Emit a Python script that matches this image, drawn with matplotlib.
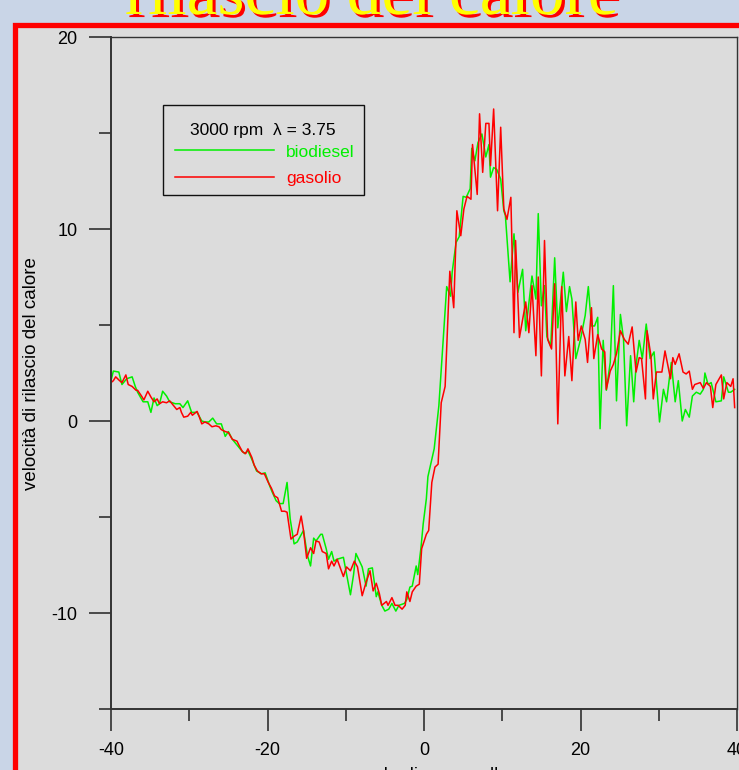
import matplotlib
matplotlib.use("Agg")
import matplotlib.pyplot as plt
import matplotlib.patheffects as pe
from matplotlib.patches import Rectangle
from matplotlib.ticker import MultipleLocator

# --
# Data: heat release rate vs crank angle
# --
angle_bio = [
    -40.0, -39.7, -39.0, -38.6, -38.0, -37.3, -36.9, -36.6, -35.9, -35.3,
    -34.9, -34.5, -34.1, -33.8, -33.4, -32.9, -32.5, -31.8, -31.2, -30.8,
    -30.2, -29.7, -29.0, -28.4, -28.0, -27.5, -27.0, -26.5, -25.9, -25.4,
    -25.0, -24.5, -23.8, -23.3, -22.9, -22.5, -22.0, -21.4, -20.8, -20.3,
    -19.7, -19.4, -18.9, -18.5, -18.0, -17.5, -17.1, -16.6, -16.2, -15.4,
    -14.9, -14.5, -14.1, -13.8, -13.2, -13.0, -12.5, -12.2, -11.8, -11.5,
    -11.1, -10.3, -9.4, -9.0, -8.7, -7.9, -7.4, -7.1, -6.6, -6.1,
    -5.9, -5.4, -5.0, -4.5, -4.1, -3.6, -3.2, -2.5, -2.2, -1.8,
    -1.5, -1.0, -0.8, -0.4, -0.1, 0.3, 0.5, 1.0, 1.3, 1.9,
    2.4, 2.9, 3.4, 3.6, 4.1, 4.5, 5.0, 5.4, 5.9, 6.1,
    6.5, 6.9, 7.4, 7.9, 8.3, 8.5, 8.9, 9.3, 9.8, 10.2,
    10.4, 11.0, 11.5, 12.0, 12.6, 13.0, 13.8, 14.3, 14.6, 15.0,
    15.4, 15.7, 16.2, 16.7, 17.1, 17.8, 18.2, 18.6, 18.9, 19.4,
    20.0, 20.6, 21.0, 21.4, 21.8, 22.2, 22.5, 22.9, 23.3, 23.8,
    24.2, 24.6, 25.1, 25.5, 25.9, 26.4, 26.8, 27.1, 27.5, 27.9,
    28.4, 28.9, 29.4, 30.1, 30.6, 31.0, 31.6, 32.1, 32.5, 33.0,
    33.4, 33.9, 34.3, 34.8, 35.3, 35.7, 35.9, 36.3, 36.7, 37.3,
    38.0, 38.3, 38.9, 39.2, 39.7,
]
hrr_bio = [
    2.1, 2.6, 2.55, 1.9, 2.2, 2.3, 1.8, 1.5, 1.0, 1.0,
    0.45, 1.2, 0.8, 0.9, 1.55, 1.3, 1.0, 0.9, 0.9, 0.7,
    1.05, 0.45, 0.45, 0.0, -0.05, -0.05, 0.15, -0.15, -0.15, -0.8,
    -0.55, -0.95, -1.3, -1.55, -1.7, -1.55, -2.0, -2.6, -2.75, -2.7,
    -3.4, -3.7, -4.15, -4.3, -4.3, -3.2, -5.1, -6.4, -6.3, -5.7,
    -7.0, -7.55, -6.1, -6.25, -5.9, -5.9, -6.65, -7.2, -6.8, -7.3,
    -7.2, -7.1, -9.05, -8.0, -6.9, -7.6, -8.6, -7.7, -7.65, -9.15,
    -8.9, -9.6, -9.9, -9.8, -9.5, -9.9, -9.6, -9.5, -9.3, -8.65,
    -8.6, -7.55, -8.0, -6.65, -5.35, -4.05, -2.9, -2.0, -1.45, 0.8,
    3.9, 7.0, 6.5, 7.75, 9.3, 9.6, 11.7, 11.65, 12.1, 14.2,
    13.55, 14.5, 14.95, 13.75, 14.4, 12.7, 13.2, 13.1, 12.6, 10.95,
    10.7, 7.25, 9.75, 6.7, 7.9, 4.7, 7.55, 6.35, 10.8, 6.0,
    7.05, 4.4, 3.9, 8.5, 4.85, 7.75, 5.7, 7.0, 6.35, 3.25,
    4.25, 5.5, 7.0, 4.95, 4.95, 5.4, -0.4, 4.2, 1.6, 3.05,
    7.05, 1.05, 5.55, 4.25, -0.25, 3.4, 1.0, 2.9, 4.2, 3.25,
    5.05, 3.25, 3.6, -0.05, 1.65, 1.0, 3.05, 1.0, 2.1, 0.0,
    0.6, 0.2, 1.3, 1.5, 1.4, 1.65, 2.5, 1.9, 2.0, 1.0,
    1.05, 2.3, 1.5, 1.5, 1.65,
]

angle_gas = [
    -40.0, -39.7, -39.4, -38.9, -38.6, -38.1, -37.8, -37.3, -36.8, -36.6,
    -36.1, -35.8, -35.3, -34.9, -34.5, -34.1, -33.8, -33.4, -32.9, -32.5,
    -32.1, -31.6, -31.2, -31.0, -30.7, -30.2, -29.8, -29.6, -29.0, -28.7,
    -28.4, -28.0, -27.5, -27.1, -26.6, -26.2, -25.9, -25.4, -25.0, -24.5,
    -23.9, -23.6, -23.2, -22.8, -22.5, -22.0, -21.7, -21.3, -20.8, -20.4,
    -19.9, -19.5, -19.1, -18.7, -18.2, -17.8, -17.5, -17.0, -16.6, -16.2,
    -15.7, -15.4, -15.0, -14.5, -14.1, -13.8, -13.4, -13.0, -12.5, -12.2,
    -11.8, -11.5, -11.1, -10.3, -9.9, -9.4, -8.9, -8.5, -7.9, -7.4,
    -6.9, -6.5, -6.1, -5.7, -5.4, -4.8, -4.6, -4.1, -3.7, -3.3,
    -2.8, -2.4, -2.2, -1.8, -1.5, -1.0, -0.6, -0.3, 0.3, 0.6,
    1.0, 1.4, 1.8, 2.2, 2.7, 3.3, 3.8, 4.2, 4.7, 5.1,
    5.5, 6.0, 6.2, 6.8, 7.1, 7.5, 7.9, 8.3, 8.5, 8.9,
    9.4, 9.8, 10.2, 10.6, 11.1, 11.5, 11.7, 12.2, 13.0, 13.4,
    13.8, 14.3, 14.6, 15.0, 15.4, 15.8, 16.3, 16.7, 17.1, 17.6,
    18.0, 18.5, 18.9, 19.4, 19.7, 20.1, 20.6, 20.9, 21.4, 21.7,
    22.2, 22.7, 23.1, 23.3, 23.8, 24.2, 24.6, 25.1, 25.6, 26.1,
    26.6, 27.1, 27.5, 27.8, 28.3, 28.5, 29.0, 29.3, 29.7, 30.4,
    30.8, 31.5, 31.8, 32.1, 32.6, 33.1, 33.5, 33.9, 34.3, 34.6,
    35.3, 35.7, 36.1, 36.6, 36.9, 37.3, 38.0, 38.3, 38.7, 39.2,
    39.5, 39.7,
]
hrr_gas = [
    2.0, 2.1, 2.3, 2.1, 2.0, 2.4, 1.9, 1.8, 1.6, 1.6,
    1.3, 1.1, 1.55, 1.25, 1.0, 1.15, 0.9, 1.0, 0.95, 1.05,
    0.85, 0.6, 0.7, 0.45, 0.2, 0.25, 0.45, 0.3, 0.5, 0.2,
    -0.15, -0.05, -0.15, -0.3, -0.25, -0.3, -0.45, -0.55, -0.6, -0.95,
    -1.05, -1.3, -1.6, -1.7, -1.45, -1.9, -2.3, -2.6, -2.75, -2.75,
    -3.2, -3.5, -3.9, -4.0, -4.7, -4.7, -4.75, -6.15, -6.0, -5.9,
    -4.95, -5.7, -7.15, -6.6, -6.9, -6.25, -6.3, -6.8, -6.9, -7.7,
    -7.3, -7.55, -7.2, -8.1, -7.6, -7.8, -7.3, -7.6, -9.1, -8.4,
    -7.8, -8.85, -8.45, -9.0, -9.6, -9.4, -9.6, -9.2, -9.6, -9.6,
    -9.8, -9.6, -8.9, -9.4, -8.9, -8.6, -8.5, -6.65, -5.9, -5.7,
    -3.2, -2.4, -2.25, 0.95, 1.8, 7.8, 5.9, 10.95, 9.65, 11.05,
    11.7, 11.55, 14.4, 11.8, 16.0, 12.95, 15.5, 15.5, 13.3, 16.25,
    10.95, 15.3, 11.05, 10.5, 11.65, 4.6, 9.4, 4.35, 6.2, 4.6,
    7.05, 3.4, 7.5, 2.35, 9.4, 4.25, 3.75, 7.15, -0.15, 7.0,
    2.35, 4.4, 2.1, 6.2, 4.2, 4.95, 4.25, 3.05, 5.9, 3.25,
    4.5, 3.75, 3.6, 1.65, 2.6, 2.95, 3.5, 4.7, 4.25, 4.0,
    4.9, 2.55, 3.3, 3.25, 1.15, 4.7, 3.4, 1.15, 2.55, 2.55,
    3.65, 2.2, 3.3, 2.95, 3.5, 2.55, 2.45, 2.6, 1.65, 1.9,
    2.0, 1.7, 2.0, 1.8, 0.7, 1.9, 2.4, 1.15, 2.0, 1.8,
    2.2, 0.7,
]

series_labels = ["biodiesel", "gasolio"]
series_colors = ["#00f000", "#ff0000"]
legend_title = "3000 rpm  \u03bb = 3.75"

# --
# Figure / slide background
# --
plt.rcParams["font.family"] = ["Liberation Sans", "DejaVu Sans"]
plt.rcParams["axes.unicode_minus"] = False

W, H = 739, 770
fig = plt.figure(figsize=(W / 100, H / 100), dpi=100)
fig.patch.set_facecolor("#c9d5e7")

# red slide frame with grey interior (drawn behind the axes)
frame = Rectangle((14.5 / W, -0.2), 1.2, 1.2 - 24.5 / H,
                  transform=fig.transFigure, facecolor="#dcdcdc",
                  edgecolor="#ff0000", linewidth=3.8, zorder=-5)
fig.patches.append(frame)

# slide title (cut off at the top)
fig.text(372 / W, 1 - 14 / H, "rilascio del calore", ha="center", va="baseline",
         family="Liberation Serif", fontsize=50, color="#ffff00", zorder=5,
         path_effects=[pe.withSimplePatchShadow(offset=(2.2, -2.2),
                                                shadow_rgbFace="#ff0000",
                                                alpha=1.0)])

# --
# Axes
# --
ax = fig.add_axes([111 / W, 1 - 709 / H, 626 / W, 672 / H], zorder=2)
ax.set_facecolor("#dcdcdc")

ax.plot(angle_bio, hrr_bio, color=series_colors[0], linewidth=1.1, label=series_labels[0])
ax.plot(angle_gas, hrr_gas, color=series_colors[1], linewidth=1.1, label=series_labels[1])

ax.set_xlim(-40, 40)
ax.set_ylim(-15, 20)
ax.xaxis.set_major_locator(MultipleLocator(20))
ax.xaxis.set_minor_locator(MultipleLocator(10))
ax.yaxis.set_major_locator(MultipleLocator(10))
ax.yaxis.set_minor_locator(MultipleLocator(5))
ax.tick_params(which="major", direction="out", length=16, width=1.1,
               color="#222222", labelsize=13, pad=8)
ax.tick_params(which="minor", direction="out", length=8.3, width=1.1, color="#222222")
for side in ["left", "bottom"]:
    ax.spines[side].set_linewidth(1.4)
    ax.spines[side].set_color("#333333")
for side in ["top", "right"]:
    ax.spines[side].set_linewidth(1.0)
    ax.spines[side].set_color("#333333")

# legend: framed box with a centred title line, then the two series
ax.add_patch(Rectangle((0.0831, 0.7649), 0.3211, 0.1339, transform=ax.transAxes,
                       fill=False, edgecolor="#111111", linewidth=1.0, zorder=4))
ax.text(0.2428, 0.8616, legend_title, transform=ax.transAxes, ha="center",
        va="center", fontsize=12.5, zorder=4)
ax.legend(loc="center left", bbox_to_anchor=(0.1022, 0.8095), borderaxespad=0,
          borderpad=0, frameon=False, fontsize=12.5, handlelength=5.7,
          handletextpad=0.7, labelspacing=0.63, labelcolor="linecolor")

# axis titles as slide text
fig.text(32 / W, 1 - 374 / H, "velocit\u00e0 di rilascio del calore", rotation=90,
         ha="center", va="center", fontsize=13.5, zorder=5)
fig.text(425 / W, 1 - 767 / H, "angolo di manovella", ha="center", va="top",
         fontsize=13.5, zorder=5)

fig.savefig("out.png", dpi=100, facecolor=fig.get_facecolor())
